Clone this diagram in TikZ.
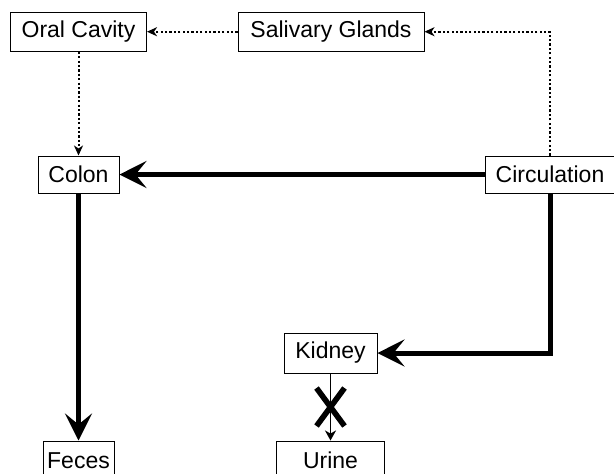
\documentclass[tikz,border=0pt]{standalone}
\usepackage{fontspec}
\setmainfont{Liberation Sans}
\usetikzlibrary{arrows.meta}
\tikzset{
  box/.style={draw, line width=.5pt, inner sep=0pt, font=\fontsize{11.5}{13}\selectfont},
  flow/.style={line width=2.5pt, -{Stealth[length=13.5pt,width=13.5pt,inset=5.5pt]}},
  saliva/.style={line width=1pt, dash pattern=on 1.1pt off 1.1pt, -{Stealth[length=5pt,width=4.5pt,inset=1.5pt]}},
  filt/.style={line width=.75pt, -{Stealth[length=5pt,width=5.5pt,inset=1.5pt]}}
}
\begin{document}
\begin{tikzpicture}[x=.5pt, y=-.5pt]
  \clip (0,0) rectangle (614,473);
  \node [box, minimum width=68pt, minimum height=19.5pt] (oral) at (78.5,31.7) {Oral Cavity};
  \node [box, minimum width=93pt, minimum height=19.5pt] (saliv) at (331,31.7) {Salivary Glands};
  \node [box, minimum width=40.5pt, minimum height=18.5pt] (colon) at (78.5,174.5) {Colon};
  \node [box, minimum width=65pt, minimum height=18.5pt] (circ) at (550,174.5) {Circulation};
  \node [box, minimum width=46.5pt, minimum height=20pt] (kidney) at (330.5,353) {Kidney};
  \node [box, minimum width=54pt, minimum height=19.5pt] (urine) at (330.5,460.5) {Urine};
  \node [box, minimum width=35.5pt, minimum height=19.5pt] (feces) at (78.5,460.5) {Feces};
  % saliva route
  \draw [saliva] (saliv) -- (oral);
  \draw [saliva] (circ.north) |- (saliv.east);
  \draw [saliva] (oral) -- (colon);
  % main routes
  \draw [flow] (circ) -- (colon);
  \draw [flow] (colon) -- (feces);
  \draw [flow] (circ.south) |- (kidney.east);
  \draw [filt] (kidney) -- coordinate (block) (urine);
  \draw [line width=2.8pt] ([shift={(-14,-19)}]block) -- ([shift={(14,19)}]block)
    ([shift={(14,-19)}]block) -- ([shift={(-14,19)}]block);
\end{tikzpicture}
\end{document}
